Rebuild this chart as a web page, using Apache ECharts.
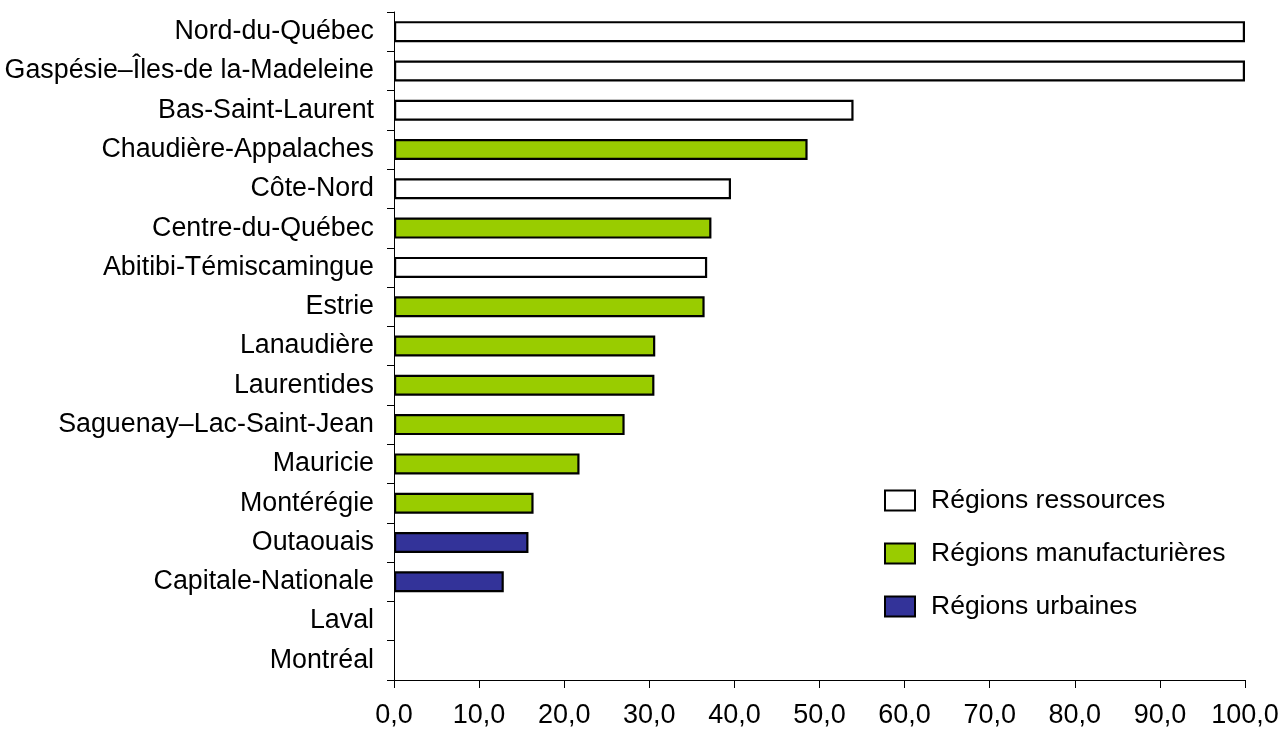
<!DOCTYPE html>
<html>
<head>
<meta charset="utf-8">
<script src="https://cdn.jsdelivr.net/npm/echarts@6/dist/echarts.min.js"></script>
<style>
  html, body { margin: 0; padding: 0; background: #fff; }
  #chart { width: 1283px; height: 731px; }
</style>
</head>
<body>
<div id="chart"></div>
<script>
// régions, de haut en bas
var categories = [
  "Nord-du-Québec", "Gaspésie–Îles-de la-Madeleine", "Bas-Saint-Laurent",
  "Chaudière-Appalaches", "Côte-Nord", "Centre-du-Québec",
  "Abitibi-Témiscamingue", "Estrie", "Lanaudière", "Laurentides",
  "Saguenay–Lac-Saint-Jean", "Mauricie", "Montérégie", "Outaouais",
  "Capitale-Nationale", "Laval", "Montréal"
];
var values = [100, 100, 54.0, 48.6, 39.6, 37.3, 36.8, 36.5, 30.7, 30.6, 27.1, 21.8, 16.4, 15.8, 12.9, 0, 0];
// 0 = ressources, 1 = manufacturières, 2 = urbaines
var groups = [0, 0, 0, 1, 0, 1, 0, 1, 1, 1, 1, 1, 1, 2, 2, 2, 2];
var groupNames = ["Régions ressources", "Régions manufacturières", "Régions urbaines"];
var groupColors = ["#ffffff", "#99cc00", "#333399"];

var font = "Arial, 'Liberation Sans', sans-serif";

var myChart = echarts.init(document.getElementById("chart"));

var series = groupNames.map(function (name, g) {
  return {
    name: name,
    type: "bar",
    stack: "all",
    barWidth: 21,
    itemStyle: { color: groupColors[g], borderColor: "#000", borderWidth: 2.2 },
    data: values.map(function (v, i) {
      return groups[i] === g && v > 0 ? v : "-";
    })
  };
});

var option = {
  animation: false,
  backgroundColor: "#fff",
  textStyle: { fontFamily: font },
  grid: { left: 394, right: 38, top: 12, bottom: 51, containLabel: false },
  legend: {
    orient: "vertical",
    left: 879,
    top: 482,
    itemWidth: 30,
    itemHeight: 20,
    itemGap: 26,
    textStyle: { fontSize: 26.5, color: "#000", fontFamily: font, padding: [0, 0, 0, 11] },
    data: groupNames.map(function (n) { return { name: n, icon: "rect" }; })
  },
  xAxis: {
    type: "value",
    min: 0,
    max: 100,
    interval: 10,
    splitLine: { show: false },
    axisLine: { show: true, lineStyle: { color: "#000", width: 1 } },
    axisTick: { show: true, length: 8, lineStyle: { color: "#000" } },
    axisLabel: {
      fontSize: 27,
      color: "#000",
      margin: 22,
      fontFamily: font,
      formatter: function (v) { return v.toFixed(1).replace(".", ","); }
    }
  },
  yAxis: {
    type: "category",
    inverse: true,
    data: categories,
    axisLine: { show: true, lineStyle: { color: "#000", width: 1 } },
    axisTick: { show: true, length: 7, alignWithLabel: false, lineStyle: { color: "#000" } },
    axisLabel: { fontSize: 26.8, color: "#000", margin: 20, fontFamily: font }
  },
  series: series
};

myChart.setOption(option);
</script>
</body>
</html>
